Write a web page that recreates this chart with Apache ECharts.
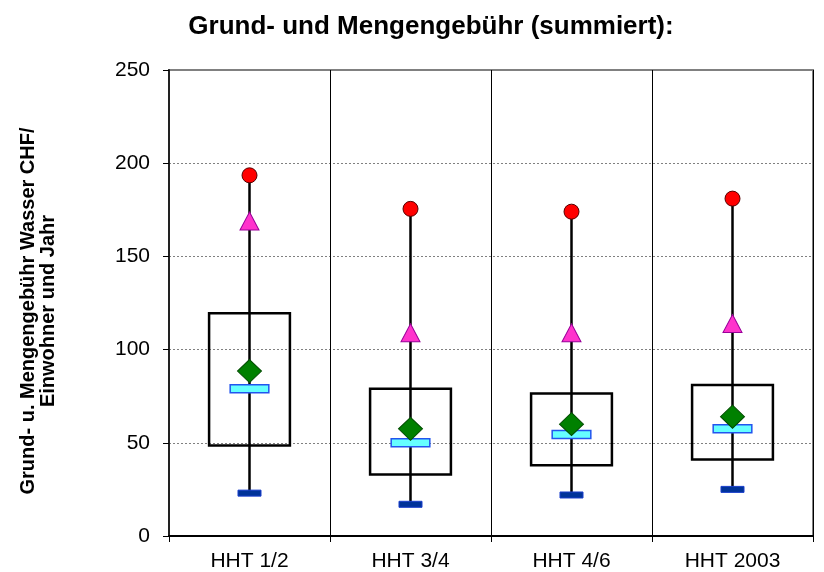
<!DOCTYPE html>
<html>
<head>
<meta charset="utf-8">
<script src="https://cdn.jsdelivr.net/npm/echarts@6/dist/echarts.min.js"></script>
<style>
html,body{margin:0;padding:0;background:#fff;}
#chart{width:824px;height:572px;}
</style>
</head>
<body>
<div id="chart"></div>
<script>
const categories = ['HHT 1/2', 'HHT 3/4', 'HHT 4/6', 'HHT 2003'];
const minVals    = [23, 17, 22, 25];
const q1Vals     = [48.5, 33, 38, 41];
const medianVals = [79, 50, 54.5, 57.5];
const meanVals   = [88.5, 57.5, 60, 64];
const q3Vals     = [119.5, 79, 76.5, 81];
const p90Vals    = [169, 109, 109, 114];
const maxVals    = [193.5, 175.5, 174, 181];
const yTicks     = [0, 50, 100, 150, 200, 250];

const titleText = 'Grund- und Mengengebühr (summiert):';
const yNameText = 'Grund- u. Mengengebühr Wasser CHF/\nEinwohner und Jahr';

const FONT = '"Liberation Sans", Arial, sans-serif';

const boxData = categories.map((c, i) => [c, minVals[i], q1Vals[i], medianVals[i], q3Vals[i], maxVals[i]]);

function renderBox(params, api) {
  const x = api.value(0);
  const pMin = api.coord([x, api.value(1)]);
  const pQ1 = api.coord([x, api.value(2)]);
  const pMed = api.coord([x, api.value(3)]);
  const pQ3 = api.coord([x, api.value(4)]);
  const pMax = api.coord([x, api.value(5)]);
  const w = api.size([1, 0])[0];
  const cx = pMin[0];
  const boxW = w * 0.502;
  const medW = w * 0.24, medH = 8;
  const minW = w * 0.143, minH = 6;
  return {
    type: 'group',
    children: [
      { type: 'line', shape: { x1: cx, y1: pMin[1], x2: cx, y2: pMax[1] },
        style: { stroke: '#000', lineWidth: 2.5 } },
      { type: 'rect', shape: { x: cx - boxW / 2, y: pQ3[1], width: boxW, height: pQ1[1] - pQ3[1] },
        style: { fill: 'none', stroke: '#000', lineWidth: 2.5 } },
      { type: 'rect', shape: { x: cx - medW / 2, y: pMed[1] - medH / 2, width: medW, height: medH },
        style: { fill: '#66FFFF', stroke: '#2255EE', lineWidth: 1.5 } },
      { type: 'rect', shape: { x: cx - minW / 2, y: pMin[1] - minH / 2, width: minW, height: minH },
        style: { fill: '#003399', stroke: '#1a3fcc', lineWidth: 1 } }
    ]
  };
}

const chart = echarts.init(document.getElementById('chart'), null, { renderer: 'canvas' });
chart.setOption({
  animation: false,
  backgroundColor: '#fff',
  textStyle: { fontFamily: FONT },
  graphic: [
    { type: 'text', x: 431, y: 27,
      style: { text: titleText, font: 'bold 26px ' + FONT, fill: '#000', align: 'center', verticalAlign: 'middle' } },
    { type: 'text', x: 38, y: 311, rotation: Math.PI / 2,
      style: { text: yNameText, font: 'bold 20px ' + FONT, fill: '#000', align: 'center', verticalAlign: 'middle', lineHeight: 20 } }
  ],
  grid: { left: 169, right: 11, top: 70, bottom: 35, show: true, borderColor: '#808080', borderWidth: 2, backgroundColor: 'transparent' },
  xAxis: {
    type: 'category',
    data: categories,
    boundaryGap: true,
    axisLine: { show: true, lineStyle: { color: '#000', width: 2 } },
    axisTick: { show: true, length: 6, lineStyle: { color: '#000', width: 1 } },
    axisLabel: { fontSize: 21, color: '#000', fontFamily: FONT, margin: 15 },
    splitLine: { show: true, lineStyle: { color: '#000', width: 1 } }
  },
  yAxis: {
    type: 'value',
    min: yTicks[0], max: yTicks[yTicks.length - 1], interval: yTicks[1] - yTicks[0],
    axisLine: { show: true, lineStyle: { color: '#222', width: 2 } },
    axisTick: { show: true, length: 6, lineStyle: { color: '#000', width: 1 } },
    axisLabel: { fontSize: 21, color: '#000', fontFamily: FONT, margin: 19 },
    splitLine: { show: true, lineStyle: { color: '#808080', width: 1, type: [2, 2] } }
  },
  series: [
    { type: 'custom', renderItem: renderBox, data: boxData, encode: { x: 0, y: [1, 2, 3, 4, 5] }, z: 2 },
    { type: 'scatter', data: meanVals, symbol: 'diamond', symbolSize: [24, 23], z: 3,
      itemStyle: { color: '#008000', borderColor: '#004d00', borderWidth: 1, opacity: 1 } },
    { type: 'scatter', data: p90Vals, symbol: 'triangle', symbolSize: [19, 18], z: 3,
      itemStyle: { color: '#FF33CC', borderColor: '#990099', borderWidth: 1, opacity: 1 } },
    { type: 'scatter', data: maxVals, symbol: 'circle', symbolSize: 15, z: 3,
      itemStyle: { color: '#FF0000', borderColor: '#550000', borderWidth: 1, opacity: 1 } }
  ]
});
</script>
</body>
</html>
